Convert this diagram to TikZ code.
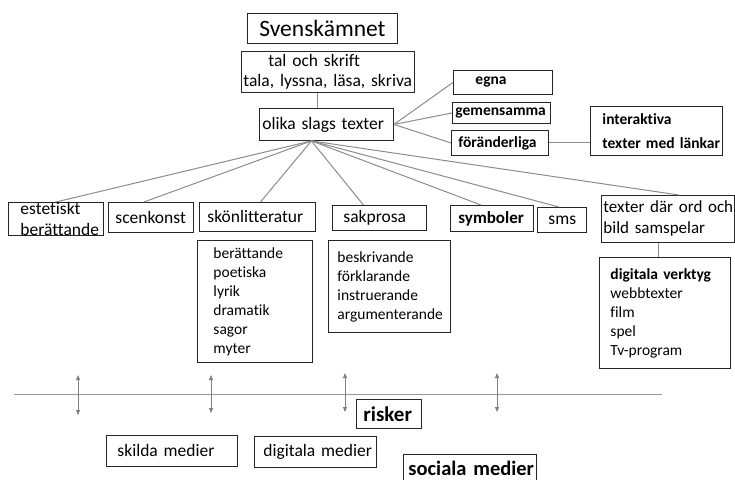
\documentclass[tikz,border=0pt]{standalone}
\usepackage{fontspec}
\setmainfont{Carlito}[Ligatures=NoCommon]
\usetikzlibrary{arrows.meta, calc}
\hyphenpenalty=10000
\exhyphenpenalty=10000

\begin{document}
\begin{tikzpicture}[x=1pt, y=-1pt,
  box/.style={draw=black!85, line width=0.9pt, anchor=north west, align=left,
    inner sep=0pt, font=\fontsize{17.5}{20}\selectfont},
  listbox/.style={box, font=\fontsize{15.5}{19}\selectfont},
  tagbox/.style={box, font=\fontsize{15.5}{24}\selectfont\bfseries},
  pad/.style={execute at begin node={\leftskip=#1pt\rightskip=-12pt plus 1fil\relax}},
  link/.style={draw=black!45, line width=1pt},
  twoway/.style={draw=black!50, line width=1pt,
    {Triangle[length=5pt,width=4pt]}-{Triangle[length=5pt,width=4pt]}}]
\useasboundingbox (0,0) rectangle (735,479);
\fill[white] (0,0) rectangle (735,479);

\node[box, align=center, text width=150pt, minimum height=30pt,
  font=\fontsize{23.5}{28}\selectfont] (sven) at (247,13) {Svenskämnet};
\node[box, pad=2, text width=173pt, minimum height=41pt] (tal) at (241,51)
  {\hspace*{25pt}tal och skrift\\tala, lyssna, läsa, skriva};
\node[box, pad=3, text width=134pt, minimum height=32pt] (olika) at (259,108) {olika slags texter};

\node[tagbox, pad=22, text width=99pt, minimum height=24pt] (egna) at (453,70) {egna};
\node[tagbox, pad=3, text width=98pt, minimum height=21pt] (gem) at (452,102) {gemensamma};
\node[tagbox, pad=7, text width=97pt, minimum height=25pt] (foer) at (451,130) {föränderliga};
\node[tagbox, pad=12, text width=132pt, minimum height=49pt] (inter) at (590,106)
  {interaktiva\\texter med länkar};

\node[box, pad=12, text width=95pt, minimum height=32pt,
  font=\fontsize{17.5}{21}\selectfont] (est) at (8,202) {estetiskt\\berättande};
\node[box, pad=7, text width=85pt, minimum height=30pt] (scen) at (108,202) {scenkonst};
\node[box, pad=8, text width=116pt, minimum height=29pt] (skon) at (199,202) {skönlitteratur};
\node[box, pad=11, text width=94pt, minimum height=25pt] (sak) at (332,205) {sakprosa};
\node[box, pad=8, text width=83pt, minimum height=26pt,
  font=\fontsize{17}{20}\selectfont\bfseries] (symb) at (450,205) {symboler};
\node[box, pad=11, text width=49pt, minimum height=25pt] (sms) at (537,207) {sms};
\node[box, pad=2, text width=133pt, minimum height=47pt,
  font=\fontsize{17}{21}\selectfont] (tdar) at (601,195) {texter där ord och\\bild samspelar};

\node[listbox, pad=16, text width=115pt, minimum height=122pt] (skonlist) at (197,240)
  {berättande\\poetiska\\lyrik\\dramatik\\sagor\\myter};
\node[listbox, pad=9, text width=122pt, minimum height=92pt] (saklist) at (328,240)
  {beskrivande\\förklarande\\instruerande\\argumenterande};
\node[listbox, pad=11, text width=131pt, minimum height=111pt] (verktyg) at (599,257)
  {\textbf{digitala verktyg}\\webbtexter\\film\\spel\\Tv-program};

\node[box, pad=7, text width=65pt, minimum height=29pt,
  font=\fontsize{21}{24}\selectfont\bfseries] (risker) at (356,399) {risker};
\node[box, pad=11, text width=131pt, minimum height=31pt] (skilda) at (106,435) {skilda medier};
\node[box, pad=9, text width=122pt, minimum height=31pt] (dmed) at (254,436) {digitala medier};
\node[box, pad=5, text width=133pt, minimum height=27pt,
  font=\fontsize{20.5}{24}\selectfont\bfseries] (sociala) at (403,454) {sociala medier};

\draw[link] ([xshift=-10pt]tal.south) -- ([xshift=-10pt]tal.south |- olika.north);
\foreach \dst in {egna, gem, foer}
  \draw[link] (olika.east) -- (\dst.west);
\draw[link] (foer.east) -- (foer.east -| inter.west);
\coordinate (hub) at ([xshift=-15pt]olika.south);
\foreach \dst/\dx in {est/0, scen/-7, skon/3, sak/-16, symb/-11, sms/-3, tdar/11}
  \draw[link] (hub) -- ([xshift=\dx pt]\dst.north);
\draw[link] ([xshift=-9pt]tdar.south) -- ([xshift=-9pt]tdar.south |- verktyg.north);

\coordinate (axisL) at (14,394);
\coordinate (axisR) at (662,394);
\draw[link, draw=black!40] (axisL) -- (axisR);
\foreach \x/\top/\bot in {78/375/415, 211/375/413, 345/373/412, 497/373/412}
  \draw[twoway] (\x,\top) -- (\x,\bot);
\end{tikzpicture}
\end{document}
